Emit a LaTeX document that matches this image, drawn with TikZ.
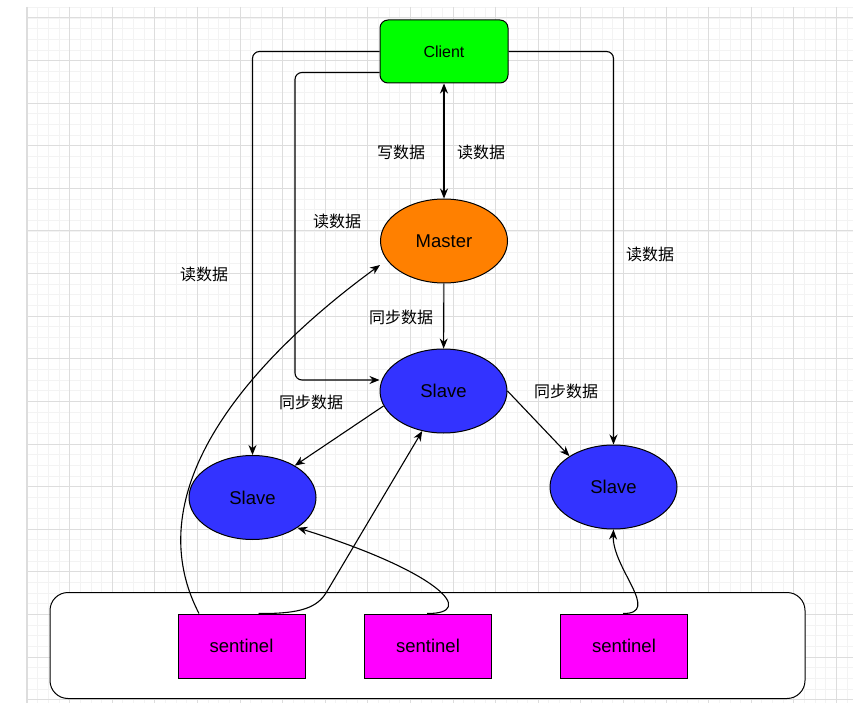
\documentclass[tikz,border=0pt]{standalone}
\usepackage{fontspec}
\setmainfont{Liberation Sans}
\newfontfamily\cjk{Noto Sans CJK SC}
\usepackage{tikz}
\usetikzlibrary{arrows.meta,positioning,calc,shapes.geometric}
\definecolor{clientgreen}{HTML}{00FF00}
\definecolor{masterorange}{HTML}{FF8000}
\definecolor{slaveblue}{HTML}{3333FF}
\definecolor{sentinelpink}{HTML}{FF00FF}
\definecolor{gridminor}{HTML}{F3F3F3}
\definecolor{gridmajor}{HTML}{DDDDDD}

\tikzset{
  redisnode/.style={draw, line width=1pt, ellipse, minimum width=127pt, minimum height=84pt, inner sep=0pt, font=\fontsize{18.5}{22}\selectfont},
  sentinelbox/.style={draw, line width=1pt, fill=sentinelpink, minimum width=127pt, minimum height=64pt, inner sep=0pt, font=\fontsize{18.5}{22}\selectfont},
  lbl/.style={font=\cjk\fontsize{16}{19}\selectfont, inner sep=0pt},
  link/.style={line width=1.1pt, -{Stealth[length=10pt,width=8pt]}}
}

\begin{document}
\begin{tikzpicture}[x=1pt, y=-1pt]
  \useasboundingbox (0,0) rectangle (865,703);
  % grid
  \foreach \i in {0,...,77}
    \draw[gridminor, line width=0.8pt] ({27+10.65*\i},7) -- ({27+10.65*\i},703);
  \foreach \i in {-1,...,64}
    \draw[gridminor, line width=0.8pt] (27,{18+10.65*\i}) -- (853,{18+10.65*\i});
  \foreach \i in {0,...,19}
    \draw[gridmajor, line width=1pt] ({27+42.6*\i},7) -- ({27+42.6*\i},703);
  \foreach \i in {0,...,16}
    \draw[gridmajor, line width=1pt] (27,{18+42.6*\i}) -- (853,{18+42.6*\i});
  \draw[gridmajor, line width=1.4pt] (27,7) -- (27,703);

  % nodes
  \node[draw, line width=1pt, rounded corners=8pt, fill=clientgreen, minimum width=128pt, minimum height=63pt, inner sep=0pt, font=\fontsize{16}{19}\selectfont] (client) at (444,51.5) {Client};
  \node[redisnode, fill=masterorange] (master) at (444,241) {Master};
  \node[redisnode, fill=slaveblue] (slavemid) at (443.5,391) {Slave};
  \node[redisnode, fill=slaveblue] (slaveleft) at (252.5,497.5) {Slave};
  \node[redisnode, fill=slaveblue] (slaveright) at (613.5,487) {Slave};

  \node[draw, line width=1pt, rounded corners=18pt, fill=white, minimum width=755pt, minimum height=106pt] (panel) at (427.5,645.5) {};
  \node[sentinelbox] (sent1) at (241.5,646) {sentinel};
  \node[sentinelbox] (sent2) at (428,646) {sentinel};
  \node[sentinelbox] (sent3) at (624,646) {sentinel};

  % client links
  \draw[link, {Stealth[length=10pt,width=8pt]}-{Stealth[length=10pt,width=8pt]}] (client) -- (master);
  \draw[link, rounded corners=7pt] (client.west) -| (slaveleft.north);
  \coordinate (bendleft) at (295,380);
  \draw[link, rounded corners=7pt] ([yshift=11pt]client.south west) -| (bendleft) -- (slavemid.west |- bendleft);
  \draw[link, rounded corners=7pt] (client.east) -| (slaveright.north);

  % replication
  \draw[link] (master) -- (slavemid);
  \draw[link] (slavemid.194) -- (slaveleft.37);
  \draw[link] (slavemid.0) -- (slaveright.145);

  % sentinel links
  \draw[link] ([xshift=-42.5pt]sent1.north) .. controls (135,490) and (250,360) .. ([yshift=-24pt]master.west);
  \draw[link] ([xshift=17pt]sent1.north) .. controls (302,614) and (317,607) .. (326,593) -- (slavemid.242);
  \draw[link] ([xshift=-1pt]sent2.north) .. controls (478,614) and (440,572) .. (slaveleft.326);
  \draw[link] ([xshift=-1pt]sent3.north) .. controls (662,614) and (612,568) .. (slaveright.south);

  % labels
  \node[lbl] (writelbl) at (401,152) {写数据};
  \node[lbl] (readlbl) at (481,152) {读数据};
  \node[lbl] (readlbl2) at (337,221) {读数据};
  \node[lbl] (readlbl3) at (204,274) {读数据};
  \node[lbl] (readlbl4) at (650,254) {读数据};
  \node[lbl] (synclbl) at (401,317) {同步数据};
  \node[lbl] (synclbl2) at (311,402) {同步数据};
  \node[lbl] (synclbl3) at (566,391) {同步数据};
\end{tikzpicture}
\end{document}
